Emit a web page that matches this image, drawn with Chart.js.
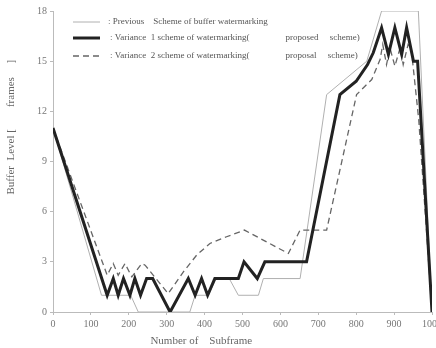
<!DOCTYPE html>
<html>
<head>
<meta charset="utf-8">
<script src="https://cdn.jsdelivr.net/npm/chart.js@4"></script>
<style>
  html, body { margin: 0; padding: 0; background: #fff; overflow: hidden; }
  canvas { display: block; }
</style>
</head>
<body>
<canvas id="chart" width="436" height="348"></canvas>
<script>
// series names (legend)
const seriesNames = [
  ': Previous    Scheme of buffer watermarking',
  ': Variance  1 scheme of watermarking(                proposed     scheme)',
  ': Variance  2 scheme of watermarking(                proposal     scheme)'
];

// Previous scheme (thin)
const prevX = [0, 128, 205, 225, 361, 375, 410, 430, 465, 489, 542, 555, 652, 722, 828, 867, 964, 1000];
const prevY = [11, 1, 1, 0, 0, 1, 1, 2, 2, 1, 1, 2, 2, 13, 15, 18, 18, 0];

// Variance 1 (thick)
const var1X = [0, 143, 159, 172, 186, 203, 216, 231, 247, 263, 309, 357, 375, 392, 408, 427, 489, 504, 539, 559, 669, 757, 800, 830, 845, 867, 885, 902, 920, 933, 951, 962, 1000];
const var1Y = [11, 1, 2, 1, 2, 1, 2, 1, 2, 2, 0, 2, 1, 2, 1, 2, 2, 3, 2, 3, 3, 13, 13.8, 14.8, 15.5, 17, 15.4, 17, 15.4, 17, 15, 15, 0];

// Variance 2 (dashed)
const var2X = [0, 143, 159, 172, 190, 208, 234, 243, 304, 344, 379, 414, 458, 505, 621, 652, 722, 801, 841, 863, 870, 880, 889, 902, 916, 924, 937, 945, 965, 985, 1000];
const var2Y = [11, 2.2, 2.9, 2.2, 2.9, 2.1, 2.9, 2.8, 1.1, 2.4, 3.4, 4.1, 4.5, 4.9, 3.5, 4.9, 4.9, 13, 13.9, 15.1, 16, 14.8, 15.8, 14.7, 15.8, 14.8, 16, 15.8, 11.5, 5, 0];

const xTicks = [0, 100, 200, 300, 400, 500, 600, 700, 800, 900, 1000];
const yTicks = [0, 3, 6, 9, 12, 15, 18];

const toPoints = (xs, ys) => xs.map((x, i) => ({ x: x, y: ys[i] }));

const serif = "'Liberation Serif', 'DejaVu Serif', serif";

// legend drawn inside the plot, top left
const legendPlugin = {
  id: 'innerLegend',
  afterDraw(chart) {
    const ctx = chart.ctx;
    const rows = [22, 38, 56];
    ctx.save();
    chart.data.datasets.forEach((ds, i) => {
      const y = rows[i];
      ctx.beginPath();
      ctx.strokeStyle = ds.borderColor;
      ctx.lineWidth = ds.borderWidth;
      ctx.setLineDash(ds.borderDash || []);
      ctx.moveTo(73, y);
      ctx.lineTo(100, y);
      ctx.stroke();
      ctx.setLineDash([]);
      ctx.fillStyle = '#555';
      ctx.font = '9px ' + serif;
      ctx.textBaseline = 'middle';
      ctx.fillText(seriesNames[i], i === 0 ? 108 : 110, y);
    });
    ctx.restore();
  }
};

new Chart(document.getElementById('chart'), {
  type: 'line',
  data: {
    datasets: [
      {
        label: seriesNames[0],
        data: toPoints(prevX, prevY),
        borderColor: '#b0b0b0',
        borderWidth: 1,
        order: 3
      },
      {
        label: seriesNames[1],
        data: toPoints(var1X, var1Y),
        borderColor: '#222',
        borderWidth: 3,
        order: 1
      },
      {
        label: seriesNames[2],
        data: toPoints(var2X, var2Y),
        borderColor: '#666',
        borderWidth: 1.3,
        borderDash: [6, 4],
        order: 2
      }
    ]
  },
  options: {
    responsive: false,
    animation: false,
    elements: {
      point: { radius: 0 },
      line: { tension: 0, fill: false }
    },
    layout: { padding: { top: 11, right: 4, left: 0, bottom: 0 } },
    plugins: {
      legend: { display: false },
      tooltip: { enabled: false }
    },
    scales: {
      x: {
        type: 'linear',
        min: 0,
        max: 1000,
        afterBuildTicks: (scale) => { scale.ticks = xTicks.map(v => ({ value: v })); },
        afterFit: (scale) => { scale.height = 36; scale.paddingLeft = 0; scale.paddingRight = 0; },
        border: { color: '#bbb', width: 1 },
        grid: { display: true, drawOnChartArea: false, drawTicks: true, tickLength: 3, color: '#bbb' },
        ticks: {
          color: '#777',
          font: { family: serif, size: 10 },
          padding: 3,
          maxRotation: 0,
          callback: (v) => String(v)
        },
        title: {
          display: true,
          text: 'Number of    Subframe' + ' '.repeat(30),
          color: '#666',
          font: { family: serif, size: 11 },
          padding: { top: 0, bottom: 0 }
        }
      },
      y: {
        min: 0,
        max: 18,
        afterBuildTicks: (scale) => { scale.ticks = yTicks.map(v => ({ value: v })); },
        afterFit: (scale) => { scale.width = 53; scale.paddingTop = 0; scale.paddingBottom = 0; },
        border: { color: '#bbb', width: 1 },
        grid: { display: true, drawOnChartArea: false, drawTicks: true, tickLength: 3, color: '#bbb' },
        ticks: {
          color: '#777',
          font: { family: serif, size: 10 },
          padding: 3,
          callback: (v) => String(v)
        },
        title: {
          display: true,
          text: ' '.repeat(25) + 'Buffer  Level [        frames     ]',
          color: '#666',
          font: { family: serif, size: 11 },
          padding: { top: 5, bottom: 0 }
        }
      }
    }
  },
  plugins: [legendPlugin]
});
</script>
</body>
</html>
